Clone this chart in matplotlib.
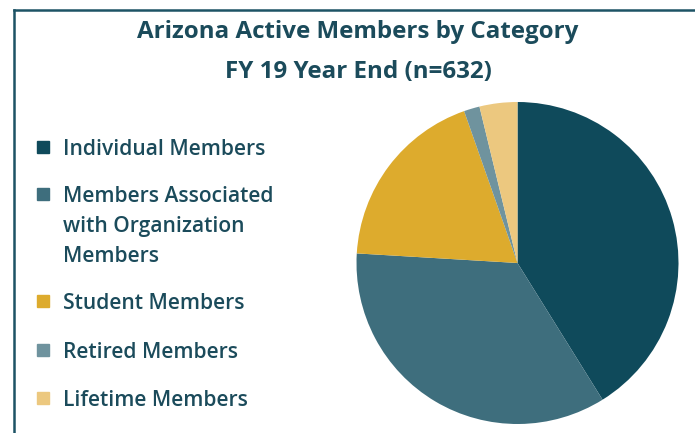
import matplotlib
matplotlib.use('Agg')
import matplotlib.pyplot as plt
from matplotlib.patches import Rectangle
from matplotlib.lines import Line2D

# data
labels = ['Individual Members',
          'Members Associated\nwith Organization\nMembers',
          'Student Members',
          'Retired Members',
          'Lifetime Members']
counts = [260, 220, 118, 10, 24]
colors = ['#0f4a5b', '#3e6e7d', '#ddab2d', '#6f939e', '#ecc87f']
title = 'Arizona Active Members by Category'
subtitle = 'FY 19 Year End (n=632)'

txtcol = '#1b4b5b'
plt.rcParams['font.family'] = ['Open Sans', 'DejaVu Sans']

W, H = 695, 433
fig = plt.figure(figsize=(W/100, H/100), dpi=100)

# frame (cut at right and bottom)
fig.add_artist(Line2D([14/W, 14/W], [0, 1-10/H], color='#1d5365', lw=1.8))
fig.add_artist(Line2D([14/W, 1], [1-10/H, 1-10/H], color='#1d5365', lw=1.8))

# titles
fig.text(358/W, 1-32/H, title, ha='center', va='center', fontsize=17.4,
         fontweight='bold', color=txtcol)
fig.text(358/W, 1-72/H, subtitle, ha='center', va='center', fontsize=17.4,
         fontweight='bold', color=txtcol)

# pie
cx, cy, r = 517.5, 263, 161
ax = fig.add_axes([(cx-r)/W, (H-cy-r)/H, 2*r/W, 2*r/H])
ax.pie(counts, colors=colors, startangle=90, counterclock=False,
       wedgeprops=dict(linewidth=0))
ax.set_xlim(-1, 1)
ax.set_ylim(-1, 1)
ax.set_aspect('equal')
ax.axis('off')

# legend
ys = [147, 194, 301, 350, 398]
for lab, c, y in zip(labels, colors, ys):
    fig.add_artist(Rectangle((37/W, 1-(y+6)/H), 12/W, 12/H, color=c,
                             transform=fig.transFigure))
    fig.text(63/W, 1-(y-8)/H, lab, ha='left', va='top', fontsize=15.1,
             fontweight='semibold', color=txtcol, linespacing=1.55)

fig.savefig('out.png', dpi=100)
